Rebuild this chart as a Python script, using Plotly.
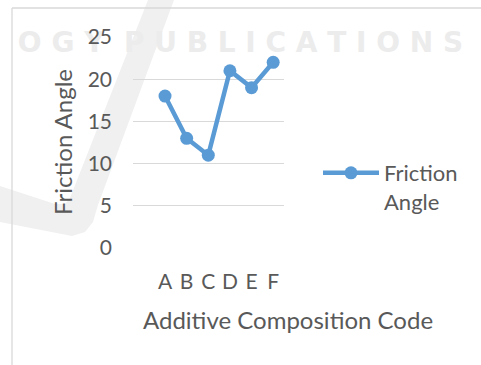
import plotly.graph_objects as go

# Data
codes = ["A", "B", "C", "D", "E", "F"]
friction_angle = [18, 13, 11, 21, 19, 22]
y_ticks = [0, 5, 10, 15, 20, 25]

W, H = 481, 365
# plot area in pixels
PL, PR, PT, PB = 133, 284, 37, 248


def px_x(px):
    return (px - PL) / (PR - PL)


def px_y(py):
    return (PB - py) / (PB - PT)


BLUE = "#5b9bd5"
TEXT = "#595959"
GRID = "#d9d9d9"
FONT = "Lato"

fig = go.Figure()
fig.add_trace(go.Scatter(
    x=list(range(len(codes))),
    y=friction_angle,
    mode="lines+markers",
    name="Friction<br>Angle",
    line=dict(color=BLUE, width=4.5),
    marker=dict(color=BLUE, size=13),
))

# faint publisher watermark: swoosh and lettering, behind the grid
swoosh_px = [(148, 0), (174, 0), (98, 205), (93, 222), (85, 232), (72, 236),
             (0, 222), (0, 186), (55, 204), (65, 204), (70, 198)]
path = "M " + " L ".join(f"{px_x(x):.4f},{px_y(y):.4f}" for x, y in swoosh_px) + " Z"

shapes = [
    dict(type="path", xref="paper", yref="paper", path=path,
         fillcolor="#f0f0f0", line=dict(width=0), layer="below"),
    dict(type="rect", xref="paper", yref="paper",
         x0=px_x(0), x1=px_x(W), y0=px_y(55), y1=px_y(25),
         line=dict(width=0), fillcolor="rgba(0,0,0,0)", layer="below",
         label=dict(text="O G Y  P U B L I C A T I O N S",
                    textposition="middle center",
                    font=dict(family="DejaVu Sans", size=28, color="#ececec",
                              weight="bold"))),
    # chart frame
    dict(type="line", xref="paper", yref="paper",
         x0=px_x(12), x1=px_x(W + 5), y0=px_y(8), y1=px_y(8),
         line=dict(color=GRID, width=1.3)),
    dict(type="line", xref="paper", yref="paper",
         x0=px_x(12), x1=px_x(12), y0=px_y(8), y1=px_y(H + 5),
         line=dict(color=GRID, width=1.3)),
]

fig.update_layout(
    width=W, height=H,
    margin=dict(l=PL, r=W - PR, t=PT, b=H - PB, autoexpand=False),
    paper_bgcolor="white", plot_bgcolor="rgba(0,0,0,0)",
    font=dict(family=FONT, color=TEXT),
    showlegend=True,
    legend=dict(x=px_x(318), y=px_y(152), xanchor="left", yanchor="top",
                valign="top", bgcolor="rgba(0,0,0,0)", itemwidth=56,
                font=dict(family=FONT, size=22, color=TEXT)),
    shapes=shapes,
    annotations=[
        dict(text="Friction Angle", xref="paper", yref="paper",
             x=px_x(62), y=px_y(142), textangle=-90, showarrow=False,
             xanchor="center", yanchor="middle",
             font=dict(family=FONT, size=24, color=TEXT)),
        dict(text="Additive Composition Code", xref="paper", yref="paper",
             x=px_x(288), y=px_y(319), showarrow=False,
             xanchor="center", yanchor="middle",
             font=dict(family=FONT, size=24, color=TEXT)),
    ],
)

fig.update_xaxes(
    tickmode="array", tickvals=list(range(len(codes))), ticktext=codes,
    range=[-1.48, 5.5], showgrid=False, zeroline=False, showline=False,
    ticks="", ticklabelstandoff=19,
    tickfont=dict(family=FONT, size=21, color=TEXT),
)
fig.update_yaxes(
    range=[0, 25], tickmode="array", tickvals=y_ticks,
    showgrid=True, gridcolor=GRID, gridwidth=1.3, zeroline=False,
    showline=False, ticks="", ticklabelstandoff=20,
    tickfont=dict(family=FONT, size=21, color=TEXT),
)

fig.write_html("out.html")
